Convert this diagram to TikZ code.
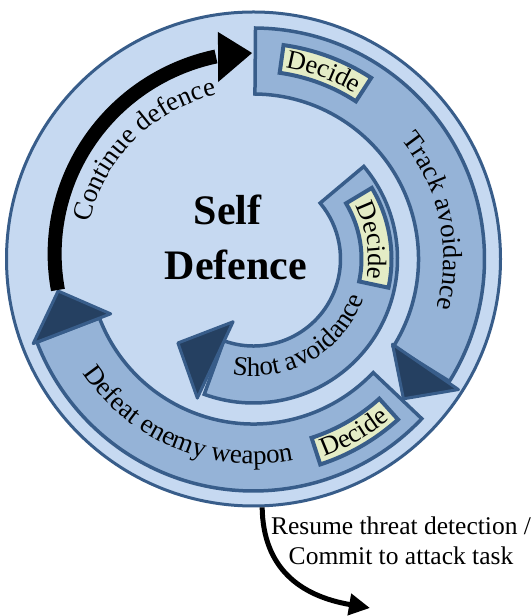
\documentclass[tikz,border=0pt]{standalone}
\usepackage{fontspec}
\setmainfont{Liberation Serif}
\usetikzlibrary{decorations.text,arrows.meta}
\definecolor{lightc}{HTML}{C6D9F1}
\definecolor{midc}{HTML}{95B3D7}
\definecolor{borderc}{HTML}{385D8A}
\definecolor{headc}{HTML}{254061}
\definecolor{decc}{HTML}{E4ECC6}
\newcommand\lblfont{\fontsize{25.5}{30}\selectfont}
\newcommand\arcfont{\fontsize{27}{32}\selectfont}
\newcommand\decfont{\fontsize{26.5}{32}\selectfont}
\begin{document}
\begin{tikzpicture}[x=1pt,y=1pt,
  outerc/.style={fill=lightc,draw=borderc,line width=3pt},
  band/.style={fill=midc,draw=borderc,line width=3.5pt,line join=miter},
  head/.style={fill=headc,draw=borderc,line width=3pt,line join=round},
  decbox/.style={fill=decc,draw=borderc,line width=4pt},
  lbl/.style={font=\lblfont,inner sep=0pt},
  arctext/.style={decorate,decoration={text along path,text={|\arcfont|#1},text align=center}},
  dectext/.style={decorate,decoration={text along path,text={|\decfont|Decide},text align=center}},
  bigtext/.style={font=\fontsize{42}{50}\selectfont\bfseries,inner sep=0pt}
]
\useasboundingbox (0,0) rectangle (532,616);
\fill[white] (0,0) rectangle (532,616);
\begin{scope}[shift={(253.5,357)}]
  \node[circle,minimum size=494pt,inner sep=0pt,outerc] (disc) at (0,0) {};
  % Track avoidance band
  \draw[band] (89.5:231) arc[start angle=89.5,end angle=-32,radius=231]
     -- (-32:165) arc[start angle=-32,end angle=89.5,radius=165] -- cycle;
  \draw[head] (-31.5:163) -- (-32.5:243) -- (-43:205) -- cycle;
  % Defeat enemy weapon band
  \draw[band] (-43.5:232) arc[start angle=-43.5,end angle=-159,radius=232]
     -- (-159:165) arc[start angle=-159,end angle=-43.5,radius=165] -- cycle;
  \draw[head] (-159:153) -- (-159:236) -- (-170.7:198) -- cycle;
  % Shot avoidance band
  \draw[band] (40:144) arc[start angle=40,end angle=-110,radius=144]
     -- (-110:87) arc[start angle=-110,end angle=40,radius=87] -- cycle;
  \draw[head] (-108:66) -- (-112:150) -- (-132:113) -- cycle;
  % Decide boxes
  \draw[decbox] (82:216) arc[start angle=82,end angle=57,radius=216]
     -- (57:188) arc[start angle=57,end angle=82,radius=188] -- cycle;
  \draw[decbox] (31:138) arc[start angle=31,end angle=-12,radius=138]
     -- (-12:108) arc[start angle=-12,end angle=31,radius=108] -- cycle;
  \draw[decbox] (-72:188) arc[start angle=-72,end angle=-48,radius=188]
     -- (-48:216) arc[start angle=-48,end angle=-72,radius=216] -- cycle;
  % texts along arcs
  \path[dectext] (95:194) arc[start angle=95,end angle=44,radius=194];
  \path[dectext] (60:115) arc[start angle=60,end angle=-42,radius=115];
  \path[dectext] (-95:210) arc[start angle=-95,end angle=-25,radius=210];
  \path[arctext=Track avoidance] (62:190) arc[start angle=62,end angle=-38,radius=190];
  \path[arctext=Shot avoidance] (-110:117) arc[start angle=-110,end angle=-10,radius=117];
  \path[arctext=Defeat enemy weapon] (-155:205) arc[start angle=-155,end angle=-70,radius=205];
  \path[arctext=Continue defence] (178:168) arc[start angle=178,end angle=92,radius=168];
  % Continue defence black arrow
  \draw[line width=14pt,black] plot[domain=189:100.5,samples=60,smooth] (\x:{198+(189-\x)*0.09});
  \fill[black] (101.3:180.5) -- (98.9:229.8) -- (90.4:206) -- cycle;
\end{scope}
\node[bigtext,anchor=base] (selfa) at (227.5,391) {Self};
\node[bigtext,anchor=base] (selfb) at (236,336) {Defence};
\coordinate (ctip) at (370,8);
\draw[line width=5pt,-{Triangle[length=21pt,width=21pt]}] (disc.-88.5) .. controls (263,48) and (300,20) .. (ctip);
\node[lbl,anchor=base] (res1) at (401,81) {Resume threat detection /};
\node[lbl,anchor=base] (res2) at (401,51) {Commit to attack task};
\end{tikzpicture}
\end{document}
